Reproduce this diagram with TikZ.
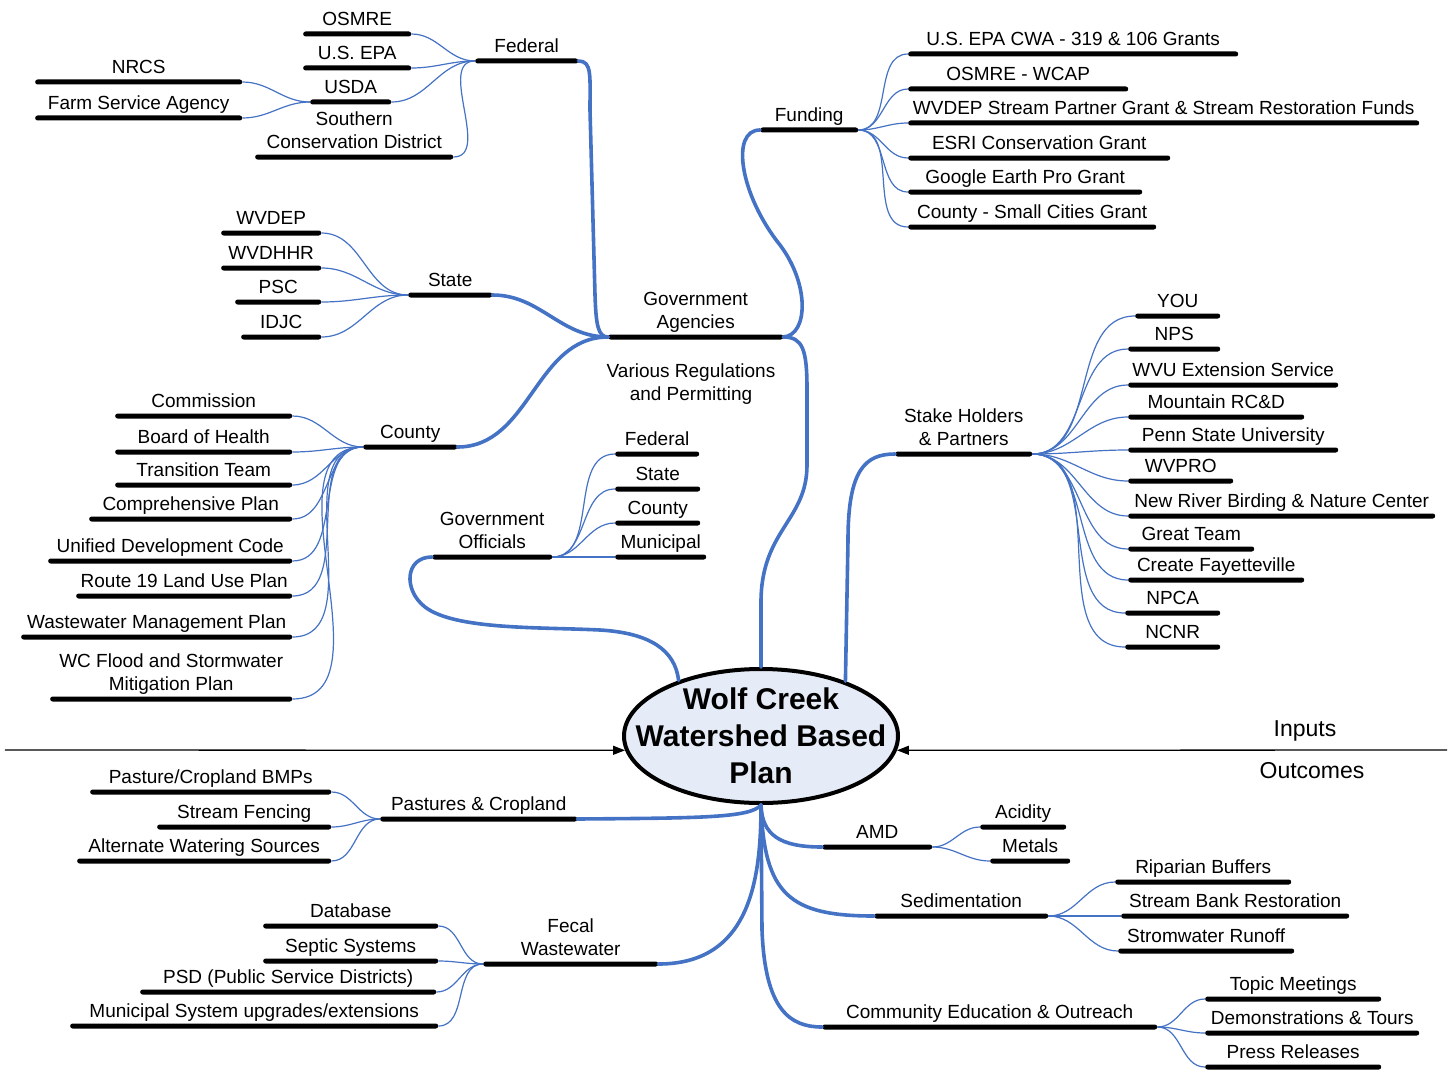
\documentclass[tikz,border=0pt]{standalone}
\usepackage{fontspec}
\setmainfont{Liberation Sans}
\usepackage{tikz}
\usetikzlibrary{shapes.geometric, arrows.meta, positioning}

\definecolor{trunkblue}{HTML}{4472C4}
\definecolor{hubfill}{HTML}{E6ECF7}

\begin{document}
\begin{tikzpicture}[x=1pt, y=-1pt, >={Triangle[length=12pt, width=9pt]},
    topicbar/.style={fill=black, rounded corners=2.4pt, inner sep=0pt,
        minimum height=5pt, minimum width=#1},
    every label/.style={font=\fontsize{19}{23}\selectfont, inner sep=0pt,
        align=center, execute at end node={\vphantom{gy}}},
    label distance=1.5pt,
    trunk/.style={draw=trunkblue, line width=3.6pt, line cap=round},
    twig/.style={draw=trunkblue, line width=1.2pt},
    hub/.style={ellipse, draw, line width=4pt, fill=hubfill,
        minimum width=274pt, minimum height=134pt, inner sep=0pt},
    flow/.style={->, line width=1.3pt},
    notetext/.style={font=\fontsize{19}{23}\selectfont, align=center, inner sep=0pt},
    sidetext/.style={font=\fontsize{23}{27}\selectfont, inner sep=0pt}]

    \useasboundingbox (0,0) rectangle (1450,1070);

    % === 1. CENTRE ===
    \node[hub] (plan) at (761,736) {};
    \node[font=\bfseries\fontsize{30}{37}\selectfont, align=center] (plantext)
        at (plan.center) {Wolf Creek\\Watershed Based\\Plan};

    % === 2. INPUTS / OUTCOMES ===
    \coordinate (inleft) at (5,750);
    \coordinate (inright) at (1447,750);
    \draw[flow] (inleft) -- (plan.186);
    \draw[flow] (inright) -- (plan.-6);
    \node[sidetext] (inputs) at (1305,731) {Inputs};
    \node[sidetext] (outcomes) at (1312,771) {Outcomes};

    % === 3. FEDERAL ===
    \foreach \nm/\xa/\xb/\yy/\tx in {federal/475/578/61/Federal,
        osmre/303/411/34/OSMRE, usepa/303/411/68/U.S. EPA, usda/310/391/102/USDA,
        southern/255/453/157/{Southern\\Conservation District},
        nrcs/35/242/82/NRCS, farm/35/242/118/Farm Service Agency} {
        \pgfmathsetmacro{\bw}{\xb-\xa}
        \node[topicbar=\bw, anchor=west, label={above:\tx}] (\nm) at (\xa,\yy) {};
    }
    \foreach \c in {osmre,usepa,usda,southern}
        \draw[twig] (federal.west) to[out=180,in=0] (\c.east);
    \foreach \c in {nrcs,farm}
        \draw[twig] (usda.west) to[out=180,in=0] (\c.east);

    % === 4. STATE ===
    \foreach \nm/\xa/\xb/\yy/\tx in {state/408/492/295/State,
        wvdep/221/321/233/WVDEP, wvdhhr/221/321/268/WVDHHR,
        psc/235/321/302/PSC, idjc/241/321/337/IDJC} {
        \pgfmathsetmacro{\bw}{\xb-\xa}
        \node[topicbar=\bw, anchor=west, label={above:\tx}] (\nm) at (\xa,\yy) {};
    }
    \foreach \c in {wvdep,wvdhhr,psc,idjc}
        \draw[twig] (state.west) to[out=180,in=0] (\c.east);

    % === 5. COUNTY ===
    \foreach \nm/\xa/\xb/\yy/\tx in {county/363/457/447/County,
        commission/115/292/416/Commission, health/115/292/452/Board of Health,
        transition/115/292/485/Transition Team,
        comprehensive/89/292/519/Comprehensive Plan,
        unified/48/292/561/Unified Development Code,
        route/76/292/596/Route 19 Land Use Plan,
        wastewater/21/292/637/Wastewater Management Plan,
        flood/50/292/699/{WC Flood and Stormwater\\Mitigation Plan}} {
        \pgfmathsetmacro{\bw}{\xb-\xa}
        \node[topicbar=\bw, anchor=west, label={above:\tx}] (\nm) at (\xa,\yy) {};
    }
    \foreach \c in {commission,health,transition,comprehensive,unified,route,wastewater,flood}
        \draw[twig] (county.west) to[out=180,in=0] (\c.east);

    % === 6. GOVERNMENT AGENCIES + FUNDING ===
    \node[topicbar=175, anchor=west, label={above:Government\\Agencies}] (agencies) at (608,337) {};
    \node[notetext] (regs) at (691,384) {Various Regulations\\and Permitting};
    \foreach \nm/\xa/\xb/\yy/\tx in {funding/760/858/130/Funding,
        epacwa/908/1238/54/U.S. EPA CWA - 319 \& 106 Grants,
        wcap/908/1128/89/OSMRE - WCAP,
        wvdepfund/908/1419/123/WVDEP Stream Partner Grant \& Stream Restoration Funds,
        esri/908/1170/158/ESRI Conservation Grant,
        google/908/1142/192/Google Earth Pro Grant,
        smallcities/908/1156/227/County - Small Cities Grant} {
        \pgfmathsetmacro{\bw}{\xb-\xa}
        \node[topicbar=\bw, anchor=west, label={above:\tx}] (\nm) at (\xa,\yy) {};
    }
    \foreach \c in {epacwa,wcap,wvdepfund,esri,google,smallcities}
        \draw[twig] (funding.east) to[out=0,in=180] (\c.west);

    % === 7. GOVERNMENT OFFICIALS ===
    \foreach \nm/\xa/\xb/\yy/\tx in {officials/432/552/557/{Government\\Officials},
        offfed/615/699/454/Federal, offstate/615/700/489/State,
        offcounty/615/700/523/County, offmuni/615/706/557/Municipal} {
        \pgfmathsetmacro{\bw}{\xb-\xa}
        \node[topicbar=\bw, anchor=west, label={above:\tx}] (\nm) at (\xa,\yy) {};
    }
    \foreach \c in {offfed,offstate,offcounty,offmuni}
        \draw[twig] (officials.east) to[out=0,in=180] (\c.west);

    % === 8. STAKE HOLDERS ===
    \foreach \nm/\xa/\xb/\yy/\tx in {stake/895/1032/454/{Stake Holders\\\& Partners},
        you/1135/1220/316/YOU, nps/1128/1220/349/NPS,
        wvu/1128/1338/385/WVU Extension Service,
        mountain/1128/1304/417/Mountain RC\&D,
        pennstate/1128/1338/450/Penn State University,
        wvpro/1128/1233/481/WVPRO,
        birding/1128/1435/516/New River Birding \& Nature Center,
        greatteam/1128/1254/549/Great Team,
        fayetteville/1128/1304/580/Create Fayetteville,
        npca/1125/1220/613/NPCA, ncnr/1125/1220/647/NCNR} {
        \pgfmathsetmacro{\bw}{\xb-\xa}
        \node[topicbar=\bw, anchor=west, label={above:\tx}] (\nm) at (\xa,\yy) {};
    }
    \foreach \c in {you,nps,wvu,mountain,pennstate,wvpro,birding,greatteam,fayetteville,npca,ncnr}
        \draw[twig] (stake.east) to[out=0,in=180] (\c.west);

    % === 9. PASTURES & CROPLAND ===
    \foreach \nm/\xa/\xb/\yy/\tx in {pastures/380/577/819/{Pastures \& Cropland},
        bmps/90/331/792/{Pasture/Cropland BMPs},
        fencing/157/331/827/Stream Fencing,
        watering/77/331/861/Alternate Watering Sources} {
        \pgfmathsetmacro{\bw}{\xb-\xa}
        \node[topicbar=\bw, anchor=west, label={above:\tx}] (\nm) at (\xa,\yy) {};
    }
    \foreach \c in {bmps,fencing,watering}
        \draw[twig] (pastures.west) to[out=180,in=0] (\c.east);

    % === 10. FECAL WASTEWATER ===
    \foreach \nm/\xa/\xb/\yy/\tx in {fecal/483/658/964/{Fecal\\Wastewater},
        database/263/438/926/Database, septic/263/438/961/Septic Systems,
        psd/140/436/992/PSD (Public Service Districts),
        municipal/70/438/1026/{Municipal System upgrades/extensions}} {
        \pgfmathsetmacro{\bw}{\xb-\xa}
        \node[topicbar=\bw, anchor=west, label={above:\tx}] (\nm) at (\xa,\yy) {};
    }
    \foreach \c in {database,septic,psd,municipal}
        \draw[twig] (fecal.west) to[out=180,in=0] (\c.east);

    % === 11. AMD, SEDIMENTATION, OUTREACH ===
    \foreach \nm/\xa/\xb/\yy/\tx in {amd/822/932/847/AMD,
        acidity/980/1066/827/Acidity, metals/990/1070/861/Metals,
        sediment/874/1048/916/Sedimentation,
        riparian/1115/1291/882/Riparian Buffers,
        streambank/1121/1349/916/Stream Bank Restoration,
        runoff/1118/1294/951/Stromwater Runoff,
        outreach/822/1157/1027/{Community Education \& Outreach},
        meetings/1205/1381/999/Topic Meetings,
        tours/1205/1419/1033/{Demonstrations \& Tours},
        press/1205/1381/1067/Press Releases} {
        \pgfmathsetmacro{\bw}{\xb-\xa}
        \node[topicbar=\bw, anchor=west, label={above:\tx}] (\nm) at (\xa,\yy) {};
    }
    \foreach \c in {acidity,metals}
        \draw[twig] (amd.east) to[out=0,in=180] (\c.west);
    \foreach \c in {riparian,streambank,runoff}
        \draw[twig] (sediment.east) to[out=0,in=180] (\c.west);
    \foreach \c in {meetings,tours,press}
        \draw[twig] (outreach.east) to[out=0,in=180] (\c.west);

    % === 12. TRUNKS ===
    \draw[trunk] (federal.east) .. controls (592,61) and (590,75) .. (590,110)
        -- (595,295) .. controls (596,325) and (598,337) .. (agencies.west);
    \draw[trunk] (state.east) to[out=0,in=180] (agencies.west);
    \draw[trunk] (county.east) to[out=0,in=180] (agencies.west);
    \draw[trunk] (agencies.east) .. controls (808,335) and (810,285) .. (780,245)
        .. controls (740,195) and (730,130) .. (funding.west);
    \draw[trunk] (agencies.east) .. controls (803,337) and (807,350) .. (807,390)
        -- (807,465) .. controls (807,520) and (762,530) .. (761,600) -- (plan.north);
    \draw[trunk] (officials.west) .. controls (405,557) and (403,590) .. (425,607)
        .. controls (455,630) and (540,627) .. (600,630)
        .. controls (650,633) and (675,650) .. (plan.146);
    \draw[trunk] (plan.33) -- (848,540) .. controls (848,470) and (865,454) .. (stake.west);
    \draw[trunk] (plan.south) .. controls (750,818) and (700,818) .. (pastures.east);
    \draw[trunk] (plan.south) .. controls (761,880) and (750,964) .. (fecal.east);
    \draw[trunk] (plan.south) .. controls (762,835) and (780,847) .. (amd.west);
    \draw[trunk] (plan.south) .. controls (764,895) and (790,916) .. (sediment.west);
    \draw[trunk] (plan.south) -- (762,930) .. controls (765,1010) and (790,1027) .. (outreach.west);

\end{tikzpicture}
\end{document}
